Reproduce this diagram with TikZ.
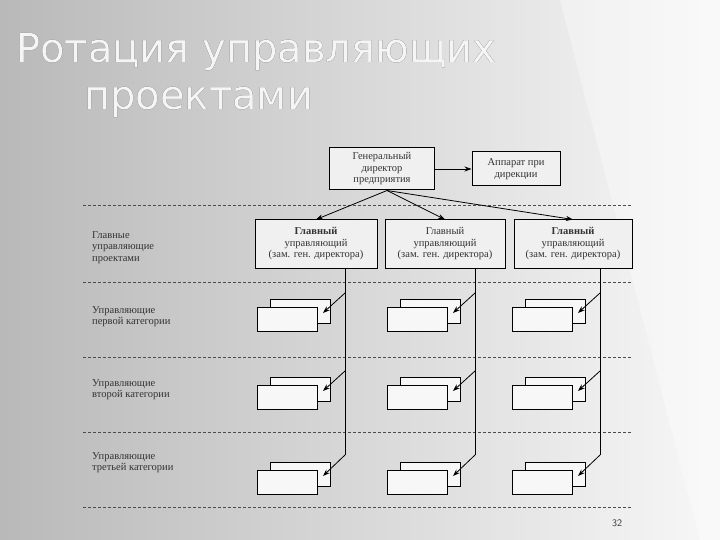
\documentclass[tikz,border=0pt]{standalone}
\usepackage{fontspec}
\setmainfont{Liberation Serif}
\newfontfamily\titlefont{DejaVu Sans}
\usepackage[outline]{contour}
\contourlength{1.1pt}
\usetikzlibrary{arrows.meta}
\begin{document}
\begin{tikzpicture}[x=1pt,y=-1pt,
  box/.style={draw=black,line width=1pt,fill=gray!12,align=center,inner sep=1pt,
    font=\fontsize{10.5}{11.5}\selectfont,text=black!80},
  sbox/.style={draw=black,line width=0.9pt,fill=gray!6},
  lbl/.style={anchor=north west,align=left,font=\fontsize{10.5}{11.5}\selectfont,text=black!80,inner sep=0pt},
  sep/.style={densely dashed,line width=0.7pt,black!70},
  conn/.style={line width=0.8pt,-{Stealth[length=7pt,width=5pt]}},
  ln/.style={line width=0.8pt},
  ttl/.style={anchor=west,inner sep=0pt,font=\titlefont\fontsize{40}{42}\selectfont}]
\shade[left color=gray!55,right color=gray!6] (0,0) rectangle (720,540);
\fill[white,opacity=0.35] (560,0) -- (720,0) -- (720,540) -- (700,540) -- cycle;
\useasboundingbox (0,0) rectangle (720,540);
\node[ttl] (t1) at (16,52) {\contour{gray!45!black}{\textcolor{gray!8}{Ротация управляющих}}};
\node[ttl] (t2) at (84,102) {\contour{gray!45!black}{\textcolor{gray!8}{проектами}}};
% separators
\foreach \y in {205,282,357,432,507}{\draw[sep] (83,\y) -- (632,\y);}
% top boxes
\node[box,minimum width=105,minimum height=42] (gd) at (382,169) {Генеральный\\директор\\предприятия};
\node[box,minimum width=88,minimum height=34] (ap) at (516,169) {Аппарат при\\дирекции};
\draw[conn] (gd) -- (ap);
\node[box,minimum width=122,minimum height=48] (m1) at (316,244) {\textbf{Главный}\\управляющий\\(зам. ген. директора)};
\node[box,minimum width=120,minimum height=48] (m2) at (445,244) {Главный\\управляющий\\(зам. ген. директора)};
\node[box,minimum width=118,minimum height=48] (m3) at (573,244) {\textbf{Главный}\\управляющий\\(зам. ген. директора)};
\draw[conn] (gd.south) ++(5,0) coordinate (g0) -- (m1.north);
\draw[conn] (g0) -- (m2.north);
\draw[conn] (g0) -- (m3.north);
% left labels
\node[lbl] (l1) at (92,231) {Главные\\управляющие\\проектами};
\node[lbl] (l2) at (92,306) {Управляющие\\первой категории};
\node[lbl] (l3) at (92,379) {Управляющие\\второй категории};
\node[lbl] (l4) at (92,452) {Управляющие\\третьей категории};
% small stacks
\foreach \c/\dx/\vx in {1/0/345,2/130/475,3/255/600}{
  \foreach \r/\dy/\ay in {1/0/293,2/78/371,3/163/455}{
    \draw[sbox] (270+\dx,299+\dy) rectangle (330+\dx,323+\dy);
    \draw[sbox] (257+\dx,307+\dy) rectangle (317+\dx,331+\dy);
    \coordinate (t\c\r) at (323+\dx,313+\dy);
    \coordinate (s\c\r) at (\vx,\ay);
    \draw[conn] (s\c\r) -- (t\c\r);
  }
  \coordinate (v\c) at (\vx,268);
  \draw[ln] (v\c) -- (s\c3);
}
\node[font=\sffamily\fontsize{10}{12}\selectfont,text=black!80] (pg) at (617,523) {32};
\end{tikzpicture}
\end{document}
